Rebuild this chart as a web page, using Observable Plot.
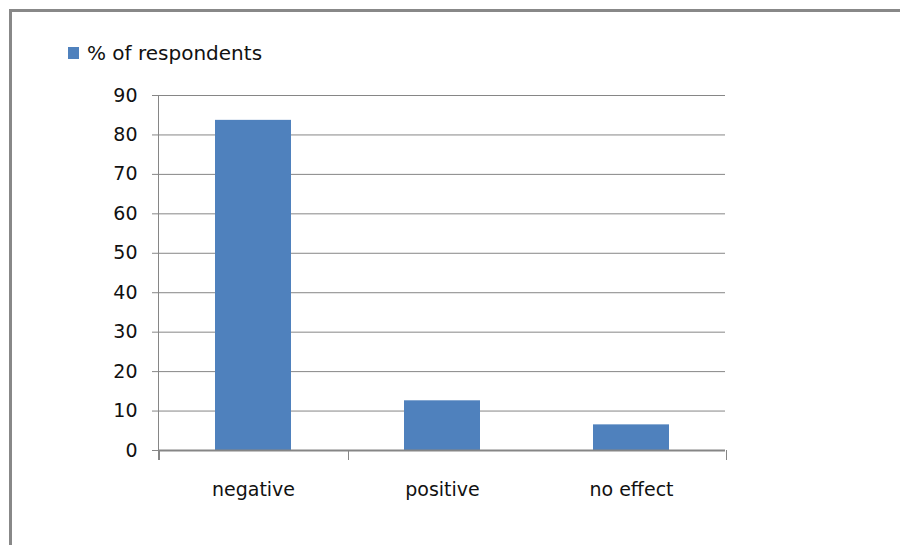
<!DOCTYPE html>
<html>
<head>
<meta charset="utf-8">
<script src="https://cdn.jsdelivr.net/npm/d3@7"></script>
<script src="https://cdn.jsdelivr.net/npm/@observablehq/plot@0.6"></script>
<style>
  html, body { margin: 0; padding: 0; background: #fff; }
  #wrap { position: relative; width: 900px; height: 545px; overflow: hidden; font-family: "DejaVu Sans", sans-serif; }
  #border { position: absolute; left: 9px; top: 9px; width: 1000px; height: 1000px; border: 3px solid #888888; box-sizing: border-box; }
  #chart { position: absolute; left: 0; top: 0; }
  #legend { position: absolute; left: 68px; top: 43px; font-size: 20px; line-height: 20px; color: #111; white-space: nowrap; }
  #legend .swatch { position: absolute; left: 0; top: 4px; width: 11px; height: 12px; }
  #legend .label { position: absolute; left: 19px; top: 0; }
</style>
</head>
<body>
<div id="wrap">
  <div id="border"></div>
  <div id="chart"></div>
  <div id="legend"><span class="swatch"></span><span class="label"></span></div>
</div>
<script>
// Survey results: perceived effect, share of respondents (%)
const seriesName = "% of respondents";
const categories = ["negative", "positive", "no effect"];
const values = [83.7, 12.6, 6.5];
const yTicks = [0, 10, 20, 30, 40, 50, 60, 70, 80, 90];
// category-axis divider marks: [category, edge of its band]
const dividers = [["negative", "start"], ["positive", "start"], ["no effect", "end"]];

const barColor = "#4F81BD";
const lineColor = "#868686";

const data = categories.map((c, i) => ({category: c, value: values[i]}));

// vertical value-axis line plus the divider ticks under the category axis
function axisLines(index, scales, values, dims) {
  const g = d3.create("svg:g").attr("stroke", lineColor).attr("fill", "none");
  const x = scales.x, y = scales.y;
  const bw = x.bandwidth();
  const xs = categories.map(c => x(c));
  const step = xs.length > 1 ? xs[1] - xs[0] : bw;
  const gap = (step - bw) / 2;
  const y0 = y(0), yTop = y(d3.max(yTicks));
  const left = dims.marginLeft;
  g.append("line")
    .attr("x1", left + 0.5).attr("x2", left + 0.5)
    .attr("y1", yTop).attr("y2", y0 + 10);
  for (const [c, edge] of dividers) {
    const px = edge === "start" ? x(c) - gap : x(c) + bw + gap;
    g.append("line")
      .attr("x1", Math.round(px) + 0.5).attr("x2", Math.round(px) + 0.5)
      .attr("y1", y0).attr("y2", y0 + 10);
  }
  return g.node();
}

const chart = Plot.plot({
  width: 900,
  height: 545,
  marginLeft: 158,
  marginRight: 175,
  marginTop: 95,
  marginBottom: 95,
  style: {fontFamily: "DejaVu Sans, sans-serif", fontSize: "19px", color: "#111", background: "transparent"},
  x: {domain: categories, paddingInner: 0.6, paddingOuter: 0.3, label: null},
  y: {domain: [0, 90], label: null},
  marks: [
    Plot.gridY(yTicks, {stroke: lineColor, strokeOpacity: 1}),
    Plot.barY(data, {x: "category", y: "value", fill: barColor}),
    Plot.axisY(yTicks, {tickSize: 6, tickPadding: 15, stroke: lineColor, strokeOpacity: 1, fill: "#111", label: null}),
    Plot.axisX({tickSize: 0, tickPadding: 32, fill: "#111", label: null}),
    Plot.ruleY([0], {stroke: lineColor, strokeWidth: 2}),
    axisLines
  ]
});
document.getElementById("chart").appendChild(chart);

document.querySelector("#legend .swatch").style.background = barColor;
document.querySelector("#legend .label").textContent = seriesName;
</script>
</body>
</html>
